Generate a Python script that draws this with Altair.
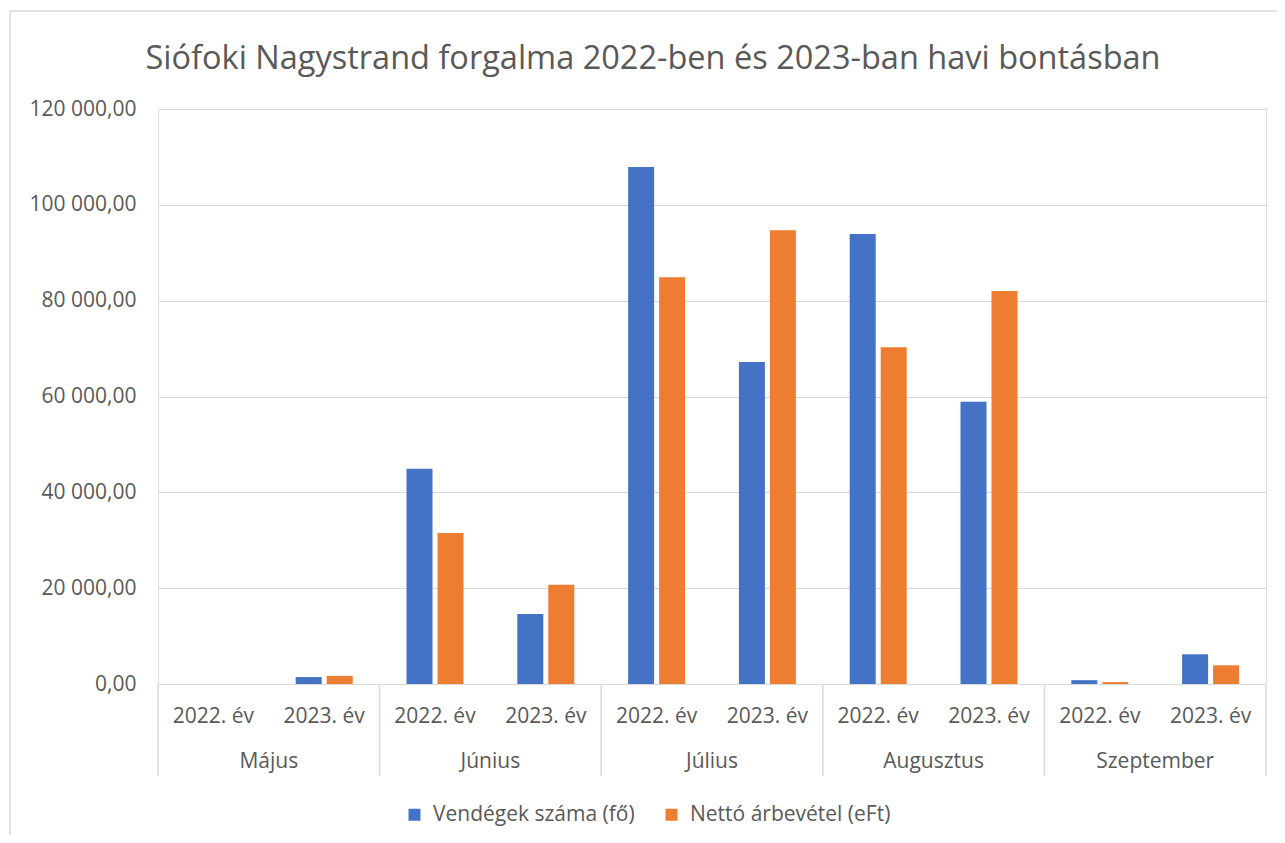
import altair as alt
import pandas as pd

months = ["Május", "Június", "Július", "Augusztus", "Szeptember"]
years = ["2022. év", "2023. év"]
series = ["Vendégek száma (fő)", "Nettó árbevétel (eFt)"]
# values per (month, year) in order: Május 2022, Május 2023, Június 2022, ...
vendegek = [0, 1450, 44900, 14600, 107900, 67200, 93900, 58900, 800, 6200]
netto = [0, 1700, 31500, 20700, 84900, 94700, 70300, 82000, 400, 3900]
y_ticks = [0, 20000, 40000, 60000, 80000, 100000, 120000]
title_text = "Siófoki Nagystrand forgalma 2022-ben és 2023-ban havi bontásban"

colors = ["#4472C4", "#ED7D31"]
text_color = "#595959"
grid_color = "#D9D9D9"
FONT = "Open Sans"
LFS = 21

slots = [f"{m}|{y}" for m in months for y in years]
rows = []
for i, s in enumerate(slots):
    m, y = s.split("|")
    rows.append({"slot": s, "month": m, "year": y, "series": series[0], "value": vendegek[i]})
    rows.append({"slot": s, "month": m, "year": y, "series": series[1], "value": netto[i]})
df = pd.DataFrame(rows)
slot_df = pd.DataFrame({"slot": slots, "month": [s.split("|")[0] for s in slots],
                        "year": [s.split("|")[1] for s in slots]})

W, H = 1108, 575

x_scale = alt.Scale(domain=slots, paddingInner=0, paddingOuter=0)

bars = alt.Chart(df).mark_bar().encode(
    x=alt.X("slot:N", scale=x_scale, sort=slots,
            axis=alt.Axis(title=None, labelAngle=0, ticks=False, domain=True,
                          domainColor=grid_color, domainWidth=1,
                          labelExpr="split(datum.label, '|')[1]",
                          labelColor=text_color, labelFont=FONT, labelFontSize=LFS,
                          labelPadding=21)),
    xOffset=alt.XOffset("series:N", sort=series,
                        scale=alt.Scale(domain=series, paddingInner=0.161, paddingOuter=0.868)),
    y=alt.Y("value:Q", scale=alt.Scale(domain=[0, 120000], nice=False),
            axis=alt.Axis(title=None, values=y_ticks, format=",.2f",
                          labelExpr="replace(replace(datum.label, ',', ' '), '.', ',')",
                          domain=False, ticks=False, gridColor=grid_color,
                          labelColor=text_color, labelFont=FONT, labelFontSize=LFS,
                          labelPadding=22)),
    color=alt.Color("series:N", sort=series,
                    scale=alt.Scale(domain=series, range=colors),
                    legend=alt.Legend(title=None, orient="none", direction="horizontal",
                                      legendX=246, legendY=695, symbolType="square",
                                      symbolSize=144, symbolStrokeWidth=0,
                                      labelFont=FONT, labelFontSize=LFS,
                                      labelColor=text_color, labelOffset=8,
                                      columnPadding=26, labelLimit=400)),
)

sep_left = alt.Chart(slot_df).transform_filter(
    alt.datum.year == years[0]
).mark_rule(color=grid_color, strokeWidth=1.5).encode(
    x=alt.X("slot:N", scale=x_scale, sort=slots, bandPosition=0),
    y=alt.value(H), y2=alt.value(H + 92),
)
sep_right = alt.Chart(slot_df).transform_filter(
    alt.datum.slot == slots[-1]
).mark_rule(color=grid_color, strokeWidth=1.5).encode(
    x=alt.X("slot:N", scale=x_scale, sort=slots, bandPosition=1),
    y=alt.value(H), y2=alt.value(H + 92),
)
month_labels = alt.Chart(slot_df).transform_filter(
    alt.datum.year == years[1]
).mark_text(font=FONT, fontSize=LFS, color=text_color, baseline="middle").encode(
    x=alt.X("slot:N", scale=x_scale, sort=slots, bandPosition=0),
    y=alt.value(H + 78),
    text="month:N",
)

one = pd.DataFrame({"t": [title_text]})
title = alt.Chart(one).mark_text(font=FONT, fontSize=32.5, color=text_color,
                                 baseline="middle", align="center").encode(
    x=alt.value(495), y=alt.value(-50), text="t:N")
border_left = alt.Chart(one).mark_rule(color=grid_color, strokeWidth=1.5).encode(
    x=alt.value(-148), y=alt.value(-98), y2=alt.value(H + 200))
border_top = alt.Chart(one).mark_rule(color=grid_color, strokeWidth=1.5).encode(
    x=alt.value(-148), x2=alt.value(W + 200), y=alt.value(-98))

chart = alt.layer(border_left, border_top, title, bars, sep_left, sep_right, month_labels).properties(
    width=W, height=H,
    autosize=alt.AutoSizeParams(type="none"),
    padding={"left": 150, "top": 101, "right": 11, "bottom": 151},
).configure_view(stroke=None).configure(background="white")

chart.save("out.html", embed_options={"renderer": "svg", "actions": False})
